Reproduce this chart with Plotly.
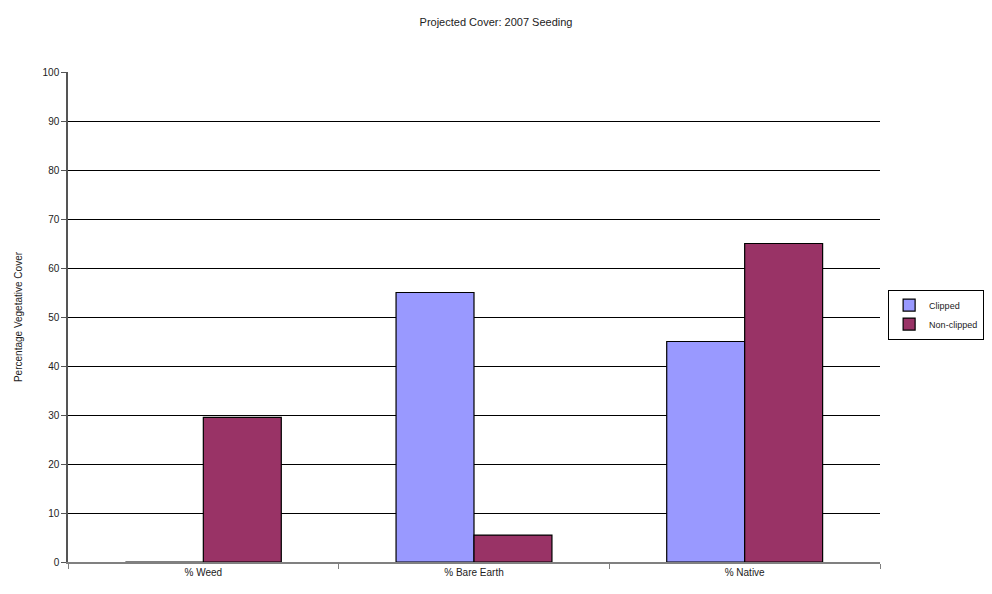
import plotly.graph_objects as go

categories = ["% Weed", "% Bare Earth", "% Native"]
clipped = [0, 55, 45]
non_clipped = [29.5, 5.5, 65]
y_ticks = list(range(0, 101, 10))

fig = go.Figure()
fig.add_trace(go.Bar(name="Clipped", x=categories, y=clipped,
                     marker=dict(color="#9999FF", line=dict(color="#000000", width=1.2))))
fig.add_trace(go.Bar(name="Non-clipped", x=categories, y=non_clipped,
                     marker=dict(color="#993366", line=dict(color="#000000", width=1.2))))

fig.update_layout(
    width=992, height=594,
    barmode="group", bargap=0.424, bargroupgap=0,
    paper_bgcolor="white", plot_bgcolor="white",
    margin=dict(l=68, r=112, t=72, b=32, autoexpand=False),
    font=dict(family="Liberation Sans, Arial, sans-serif", size=10, color="#222"),
    title=dict(text="Projected Cover: 2007 Seeding", x=0.5, xanchor="center",
               y=0.962, yanchor="middle", font=dict(size=11, color="#222")),
    legend=dict(x=1.01, xanchor="left", y=0.505, yanchor="middle",
                bordercolor="#000", borderwidth=1, bgcolor="white",
                font=dict(size=9), itemwidth=30, tracegroupgap=0),
    showlegend=True,
)
fig.update_xaxes(showline=True, linecolor="#808080", linewidth=1.5,
                 ticks="outside", tickson="boundaries", ticklen=5, tickcolor="#808080",
                 showgrid=False, tickfont=dict(size=10), automargin=False)
fig.update_yaxes(range=[0, 100], tickvals=y_ticks, showline=True, linecolor="#555",
                 linewidth=1.5, ticks="outside", ticklen=5, tickcolor="#555",
                 showgrid=True, gridcolor="#000", gridwidth=1.3, zeroline=False,
                 automargin=False,
                 title=dict(text="Percentage Vegetative Cover", font=dict(size=10), standoff=18),
                 tickfont=dict(size=10))

fig.write_html("out.html", config={"displayModeBar": False},
               post_script="document.body.style.margin='0';")
